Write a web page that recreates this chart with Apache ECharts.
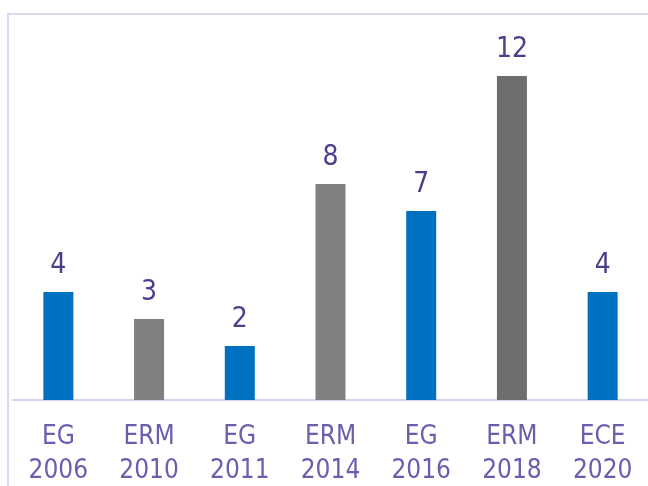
<!DOCTYPE html>
<html><head><meta charset="utf-8">
<script src="https://cdn.jsdelivr.net/npm/echarts@6/dist/echarts.min.js"></script>
<style>html,body{margin:0;padding:0;background:#fff}#c{width:648px;height:486px}</style>
</head><body><div id="c"></div>
<script>
const categories = ["EG\n2006","ERM\n2010","EG\n2011","ERM\n2014","EG\n2016","ERM\n2018","ECE\n2020"];
const values = [4,3,2,8,7,12,4];
const barColors = ["#0070C0","#808080","#0070C0","#808080","#0070C0","#6F6D6E","#0070C0"];
const fontFam = "'DejaVu Sans Condensed','Liberation Sans Narrow',sans-serif";
const chart = echarts.init(document.getElementById('c'));
chart.setOption({
  animation:false,
  graphic:[{type:'rect',shape:{x:8,y:14,width:700,height:600},style:{fill:'none',stroke:'#DCDAF0',lineWidth:2},z:-1}],
  grid:{left:13,right:0,top:14,bottom:86,outerBoundsMode:'none',containLabel:false},
  xAxis:{type:'category',data:categories,
    axisLine:{lineStyle:{color:'#D6D4EC',width:2}},axisTick:{show:false},
    axisLabel:{color:'#6A5EAD',fontSize:26,fontFamily:fontFam,lineHeight:34,margin:20,interval:0}},
  yAxis:{type:'value',min:0,max:14.3,show:false,splitLine:{show:false}},
  series:[{type:'bar',barWidth:30,
    data:values.map((v,i)=>({value:v,itemStyle:{color:barColors[i]}})),
    label:{show:true,position:'top',distance:12,color:'#4A3F8A',fontSize:28,fontFamily:fontFam}}]
});
</script></body></html>
